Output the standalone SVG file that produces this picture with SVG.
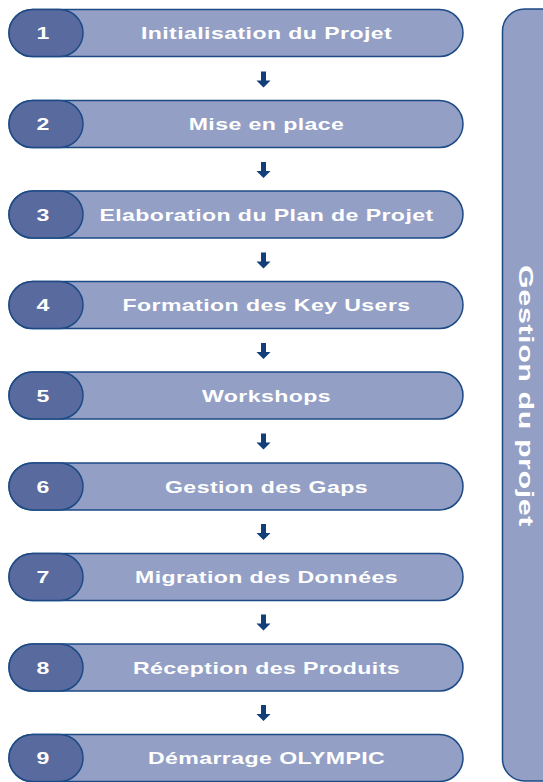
<svg xmlns="http://www.w3.org/2000/svg" width="543" height="782" viewBox="0 0 543 782">
<style>
.bar{fill:#939fc5;stroke:#1c4a85;stroke-width:1.5}
.pill{fill:#596a9f;stroke:#1c4a85;stroke-width:1.5}
.t{font-family:"Liberation Sans",Arial,sans-serif;font-weight:bold;font-size:16.5px;fill:#ffffff;text-anchor:middle;letter-spacing:0.3px}
.n{font-family:"Liberation Sans",Arial,sans-serif;font-weight:bold;font-size:16.5px;fill:#ffffff;text-anchor:middle}
.v{font-family:"Liberation Sans",Arial,sans-serif;font-weight:bold;font-size:21px;fill:#ffffff;text-anchor:middle;letter-spacing:0.4px}
.arr{fill:#123e7a}
</style>
<defs>
<path id="arrow" d="M-2.5,-8 H2.5 V1 H7 L0,8 L-7,1 H-2.5 Z"/>
</defs>
<g id="connectors">
<use href="#arrow" class="arr" x="263.5" y="79.5"/>
<use href="#arrow" class="arr" x="263.5" y="170"/>
<use href="#arrow" class="arr" x="263.5" y="260.5"/>
<use href="#arrow" class="arr" x="263.5" y="351"/>
<use href="#arrow" class="arr" x="263.5" y="441.5"/>
<use href="#arrow" class="arr" x="263.5" y="532"/>
<use href="#arrow" class="arr" x="263.5" y="622.5"/>
<use href="#arrow" class="arr" x="263.5" y="713"/>
</g>
<g id="step1">
<rect class="bar" x="9" y="9.5" width="454" height="47" rx="23.5"/>
<rect class="pill" x="9" y="9.5" width="74" height="47" rx="23.5"/>
<text class="n" transform="translate(43,39) scale(1.4,1)">1</text>
<text class="t" transform="translate(266.5,39) scale(1.4,1)">Initialisation du Projet</text>
</g>
<g id="step2">
<rect class="bar" x="9" y="100.5" width="454" height="47" rx="23.5"/>
<rect class="pill" x="9" y="100.5" width="74" height="47" rx="23.5"/>
<text class="n" transform="translate(43,130) scale(1.4,1)">2</text>
<text class="t" transform="translate(266.5,130) scale(1.4,1)">Mise en place</text>
</g>
<g id="step3">
<rect class="bar" x="9" y="191" width="454" height="47" rx="23.5"/>
<rect class="pill" x="9" y="191" width="74" height="47" rx="23.5"/>
<text class="n" transform="translate(43,220.5) scale(1.4,1)">3</text>
<text class="t" transform="translate(266.5,220.5) scale(1.4,1)">Elaboration du Plan de Projet</text>
</g>
<g id="step4">
<rect class="bar" x="9" y="281.5" width="454" height="47" rx="23.5"/>
<rect class="pill" x="9" y="281.5" width="74" height="47" rx="23.5"/>
<text class="n" transform="translate(43,311) scale(1.4,1)">4</text>
<text class="t" transform="translate(266.5,311) scale(1.4,1)">Formation des Key Users</text>
</g>
<g id="step5">
<rect class="bar" x="9" y="372" width="454" height="47" rx="23.5"/>
<rect class="pill" x="9" y="372" width="74" height="47" rx="23.5"/>
<text class="n" transform="translate(43,401.5) scale(1.4,1)">5</text>
<text class="t" transform="translate(266.5,401.5) scale(1.4,1)">Workshops</text>
</g>
<g id="step6">
<rect class="bar" x="9" y="463" width="454" height="47" rx="23.5"/>
<rect class="pill" x="9" y="463" width="74" height="47" rx="23.5"/>
<text class="n" transform="translate(43,492.5) scale(1.4,1)">6</text>
<text class="t" transform="translate(266.5,492.5) scale(1.4,1)">Gestion des Gaps</text>
</g>
<g id="step7">
<rect class="bar" x="9" y="553.5" width="454" height="47" rx="23.5"/>
<rect class="pill" x="9" y="553.5" width="74" height="47" rx="23.5"/>
<text class="n" transform="translate(43,583) scale(1.4,1)">7</text>
<text class="t" transform="translate(266.5,583) scale(1.4,1)">Migration des Données</text>
</g>
<g id="step8">
<rect class="bar" x="9" y="644" width="454" height="47" rx="23.5"/>
<rect class="pill" x="9" y="644" width="74" height="47" rx="23.5"/>
<text class="n" transform="translate(43,673.5) scale(1.4,1)">8</text>
<text class="t" transform="translate(266.5,673.5) scale(1.4,1)">Réception des Produits</text>
</g>
<g id="step9">
<rect class="bar" x="9" y="734.5" width="454" height="47" rx="23.5"/>
<rect class="pill" x="9" y="734.5" width="74" height="47" rx="23.5"/>
<text class="n" transform="translate(43,764) scale(1.4,1)">9</text>
<text class="t" transform="translate(266.5,764) scale(1.4,1)">Démarrage OLYMPIC</text>
</g>
<g id="panel">
<rect class="bar" x="502.5" y="9" width="80" height="772" rx="22"/>
<text class="v" transform="translate(518.5,396) rotate(90) scale(1.45,1)">Gestion du projet</text>
</g>
</svg>
